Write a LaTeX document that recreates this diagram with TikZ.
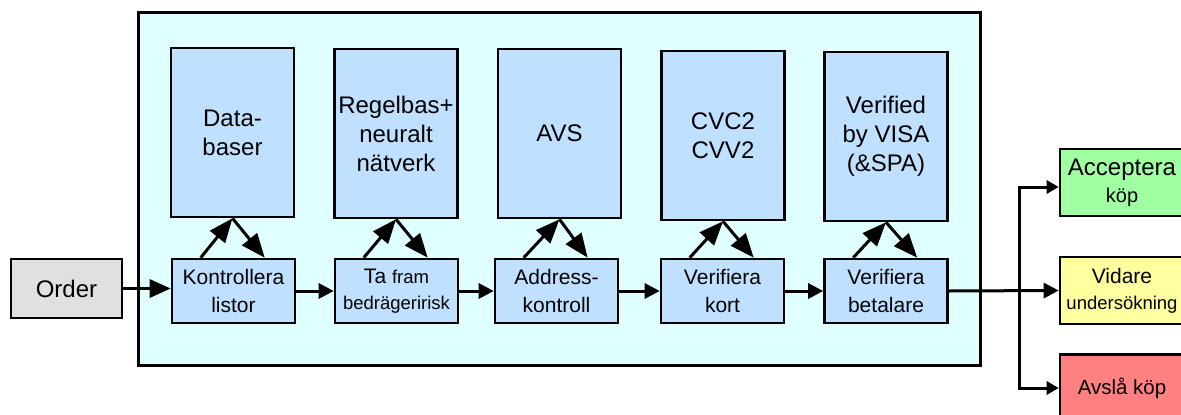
\documentclass[tikz,border=0pt]{standalone}
\usepackage{fontspec}
\setmainfont{Liberation Sans}
\usetikzlibrary{arrows.meta}
\definecolor{panel}{HTML}{E0FFFF}
\definecolor{stage}{HTML}{C0E0FF}
\definecolor{ordergray}{HTML}{E0E0E0}
\definecolor{okgreen}{HTML}{A0FFA0}
\definecolor{holdyellow}{HTML}{FFFFA0}
\definecolor{rejectred}{HTML}{FF8080}
\newcommand{\bigtxt}{\fontsize{24}{29}\selectfont}
\newcommand{\midtxt}{\fontsize{21}{28}\selectfont}
\newcommand{\smalltxt}{\fontsize{18.5}{26}\selectfont}
\begin{document}
\begin{tikzpicture}[x=1pt,y=-1pt,
  box/.style={draw, line width=2.6pt, inner sep=0pt, align=center},
  engine/.style={box, fill=stage, minimum width=123pt, minimum height=169pt, font=\bigtxt},
  check/.style={box, fill=stage, minimum width=123pt, minimum height=64pt, font=\midtxt},
  outcome/.style={box, minimum width=124pt, minimum height=67pt},
  flow/.style={line width=3pt, -{Triangle[length=15pt,width=15pt]}},
  entry/.style={line width=3pt, -{Triangle[length=21pt,width=18pt]}},
  branch/.style={line width=3pt, -{Triangle[length=12pt,width=13pt]}},
  query/.style={line width=3pt, -{Triangle[length=24pt,width=19pt]}}
]
\useasboundingbox (0,0) rectangle (1181,415);
\clip (0,0) rectangle (1181,415);

% surrounding panel
\node[box, fill=panel, minimum width=842pt, minimum height=353pt] (panel) at (559.5,189) {};

% knowledge sources
\node[engine] (t1) at (232.5,132.5) {Data-\\baser};
\node[engine] (t2) at (396,133.5) {Regelbas+\\neuralt\\nätverk};
\node[engine] (t3) at (559.5,133.5) {AVS};
\node[engine] (t4) at (723,135.5) {CVC2\\CVV2};
\node[engine] (t5) at (886,136.5) {Verified\\by VISA\\(\&SPA)};

% processing steps
\node[check] (b1) at (233.5,291) {Kontrollera\\listor};
\node[check] (b2) at (396.5,291) {Ta {\smalltxt fram}\\[-2pt]{\smalltxt bedrägeririsk}};
\node[check] (b3) at (556.5,291) {Address-\\kontroll};
\node[check] (b4) at (722.5,291) {Verifiera\\kort};
\node[check] (b5) at (886,291) {Verifiera\\betalare};

% input
\node[box, fill=ordergray, minimum width=111pt, minimum height=59pt, font=\bigtxt] (order) at (66.5,288.5) {Order};

% outcomes
\node[outcome, fill=okgreen, font=\fontsize{24}{29}\selectfont] (acc) at (1122,182.5)
  {Acceptera\\[-2pt]{\fontsize{20}{24}\selectfont köp}};
\node[outcome, fill=holdyellow, font=\midtxt] (vid) at (1122,290.5)
  {Vidare\\[-2pt]{\smalltxt undersökning}};
\node[outcome, fill=rejectred, font=\fontsize{20.5}{24}\selectfont] (avs) at (1122,388) {Avslå köp};

% main flow
\draw[entry] (order.east) -- (order.east -| b1.west);
\draw[flow] (b1) -- (b2);
\draw[flow] (b2) -- (b3);
\draw[flow] (b3) -- (b4);
\draw[flow] (b4) -- (b5);

% queries to the knowledge sources and answers back
\foreach \i in {1,...,5}{
  \draw[query] ([xshift=30pt]b\i.north west) -- (t\i.south);
  \draw[query] (t\i.south) -- ([xshift=94pt]b\i.north west);
}

% decision split
\coordinate (split) at (b5.east -| 1019,0);
\draw[flow] (b5.east) -- (vid.west);
\draw[branch] (split) |- ([yshift=-4.5pt]acc.west);
\draw[branch] (split) |- (avs.west);
\end{tikzpicture}
\end{document}
